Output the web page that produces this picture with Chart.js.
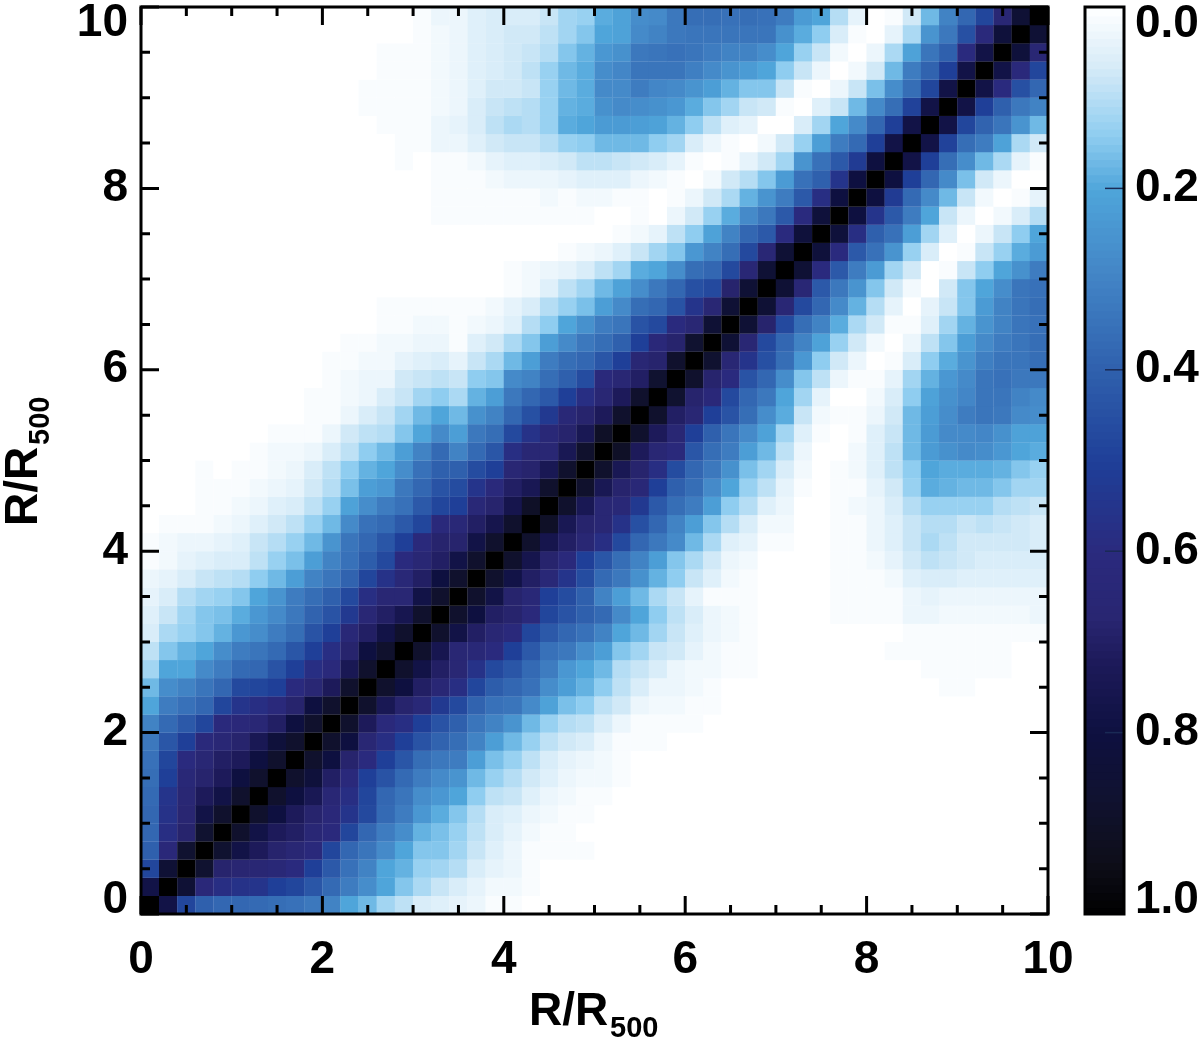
<!DOCTYPE html>
<html>
<head>
<meta charset="utf-8">
<title>R/R500 correlation matrix</title>
<script src="https://cdn.jsdelivr.net/npm/chart.js@4"></script>
<style>
	html, body { margin: 0; padding: 0; background: #fff; overflow: hidden; }
	canvas { filter: blur(0.6px); }
	#matrix { position: absolute; left: 0; top: 0; }
	#colorbar { position: absolute; left: 1060px; top: 0; }
</style>
</head>
<body>
<canvas id="matrix" width="1200" height="1038"></canvas>
<canvas id="colorbar" width="140" height="1038"></canvas>
<script>
// radial bins, 0.2 wide, bin centres on both axes
const binCenters = [
	0.1, 0.3, 0.5, 0.7, 0.9, 1.1, 1.3, 1.5, 1.7, 1.9,
	2.1, 2.3, 2.5, 2.7, 2.9, 3.1, 3.3, 3.5, 3.7, 3.9,
	4.1, 4.3, 4.5, 4.7, 4.9, 5.1, 5.3, 5.5, 5.7, 5.9,
	6.1, 6.3, 6.5, 6.7, 6.9, 7.1, 7.3, 7.5, 7.7, 7.9,
	8.1, 8.3, 8.5, 8.7, 8.9, 9.1, 9.3, 9.5, 9.7, 9.9,
];

// |correlation| in percent. The matrix is symmetric, so
// row j only lists columns j..49; anything past the end of a row is white.
const corrRows = [
	[100,78,48,40,38,38,37,36,35,33,30,20,17,12,9,6,5,4,3,1,1],
	[100,85,63,58,56,55,50,48,43,37,32,27,20,15,11,8,6,4,2,2,1],
	[100,87,68,67,66,64,60,50,42,35,30,20,18,13,12,10,6,4,3,1],
	[100,87,78,72,68,66,62,48,38,34,28,20,15,15,12,8,5,3,1,1,1,1],
	[100,88,78,72,70,65,61,48,38,32,27,18,16,13,9,6,4,2,1,1],
	[100,88,80,72,68,63,55,47,37,32,24,19,15,10,6,5,3,2,1,1],
	[100,88,80,74,65,58,48,38,34,27,24,20,14,9,8,5,3,2,1,1],
	[100,88,82,70,62,50,44,37,32,28,25,17,13,10,7,5,3,2,2,1],
	[100,88,80,68,60,50,43,36,33,32,22,16,13,9,6,4,3,2,1],
	[100,88,80,66,58,50,44,39,36,30,22,17,13,9,7,6,3,1,1,1],
	[100,88,72,62,58,50,44,40,34,30,25,17,13,10,9,6,3,1,1,1,1],
	[100,88,74,68,64,53,47,39,35,34,28,21,16,14,9,7,3,2,2,1,1],
	[100,88,80,70,65,58,48,41,38,35,27,22,18,14,9,6,3,3,2,1,0,0,0,0,0,0,0,0,0,0,0,0,1,1],
	[100,88,78,70,66,56,47,43,37,32,24,20,17,10,8,6,3,2,2,1,1,0,0,0,0,0,0,0,0,0,1,1,1,1,1],
	[100,88,75,66,64,60,50,42,35,33,27,22,15,12,8,7,4,2,1,1,0,0,0,0,0,0,0,1,1,1,1,1,1,1],
	[100,88,78,70,66,62,48,42,38,35,30,20,17,12,8,5,3,2,1,0,0,0,0,0,0,0,0,1,1,1,1,1,1,1,1],
	[100,88,80,70,68,62,48,44,40,37,28,20,14,9,6,3,2,1,0,0,0,0,1,1,1,1,3,3,2,2,2,2,2,3],
	[100,88,78,68,64,50,46,40,30,22,17,11,8,4,1,1,1,0,0,0,0,1,1,1,1,3,4,3,3,3,3,3,3],
	[100,88,78,70,64,55,46,37,33,26,18,14,8,5,2,1,0,0,0,0,1,1,1,2,5,6,6,5,5,5,5,5],
	[100,88,76,68,62,50,43,36,30,22,15,11,7,3,2,0,0,0,0,1,1,2,4,7,9,8,7,6,6,6,6],
	[100,88,76,70,66,58,47,38,33,28,17,11,5,4,1,1,0,0,1,1,3,5,8,11,9,7,7,7,7,6],
	[100,90,74,68,66,56,45,38,30,22,15,10,6,2,2,0,0,1,1,3,5,8,10,10,8,9,8,7,6],
	[100,88,74,66,64,53,42,36,32,22,14,10,5,3,0,0,1,2,3,6,10,13,13,13,13,10,9,8],
	[100,88,74,68,64,50,40,36,28,20,13,9,4,1,0,1,1,4,7,13,19,18,17,17,15,12,12],
	[100,88,74,68,58,46,38,33,26,16,12,6,2,0,1,2,5,9,14,20,19,19,19,18,15,13],
	[100,90,72,66,62,43,36,32,22,17,9,3,0,0,2,5,9,17,23,26,28,27,24,20,19],
	[100,88,72,66,50,40,34,28,21,12,5,1,0,1,5,8,17,23,28,28,29,26,21,21],
	[100,88,70,66,50,44,36,27,19,8,2,1,1,3,7,17,22,27,32,34,33,28,27],
	[100,87,68,63,47,38,33,20,12,4,0,0,2,6,14,21,26,29,34,34,30,28],
	[100,88,68,60,44,38,27,15,9,3,1,1,4,12,18,24,28,34,35,33,33],
	[100,87,66,55,45,36,24,14,7,3,0,1,6,14,19,25,31,34,34,36],
	[100,85,66,47,38,30,21,13,7,2,0,3,9,15,22,28,32,34,36],
	[100,85,68,47,36,30,19,11,7,1,1,5,12,18,25,30,34,35],
	[100,85,65,47,38,28,18,10,4,0,4,8,15,23,30,34,36],
	[100,85,65,42,33,25,15,7,2,0,7,15,20,27,34,35],
	[100,85,60,42,32,23,12,7,0,1,8,14,20,26,32],
	[100,82,60,42,35,25,13,6,0,1,8,13,19,23],
	[100,82,58,40,35,22,12,5,0,3,8,14,20],
	[100,80,55,42,32,20,8,3,0,2,6,10],
	[100,80,52,37,28,17,8,2,0,1,4],
	[100,80,50,38,28,16,7,3,0,0],
	[100,78,50,36,27,17,11,4,1],
	[100,78,49,36,32,21,11,7],
	[100,78,48,39,34,25,17],
	[100,78,50,40,33,30],
	[100,78,60,45,38],
	[100,78,62,48],
	[100,82,66],
	[100,85],
	[100],
];

const titleMain = "R/R";
const titleSub = "500";
const axisTicks = [0, 2, 4, 6, 8, 10];
const axisMinorTicks = [0.5, 1, 1.5, 2.5, 3, 3.5, 4.5, 5, 5.5, 6.5, 7, 7.5, 8.5, 9, 9.5];
const barTicks = [0.2, 0.4, 0.6, 0.8];

const rampStops = [0, 0.065, 0.14, 0.2, 0.285, 0.4, 0.5, 0.6, 0.67, 0.72, 0.8, 0.87, 0.94, 1];
const rampColors = [
	"#ffffff", "#d6ebf8", "#8fcdf0", "#4fa5da", "#4488c8", "#2f60ad", "#1f3f98",
	"#2a2a7e", "#292672", "#1d1a5a", "#0e1040", "#101230", "#0e0e1a", "#000000",
];

const tickFont = "'Liberation Sans', Arial, sans-serif";

function hexToRgb(hex) {
	return [1, 3, 5].map((k) => parseInt(hex.slice(k, k + 2), 16));
}

function rampColor(v) {
	let k = 0;
	while (k < rampStops.length - 2 && v > rampStops[k + 1]) k++;
	const t = Math.min(1, Math.max(0, (v - rampStops[k]) / (rampStops[k + 1] - rampStops[k])));
	const a = hexToRgb(rampColors[k]);
	const b = hexToRgb(rampColors[k + 1]);
	const c = a.map((ch, n) => Math.round(ch + (b[n] - ch) * t));
	return `rgb(${c[0]},${c[1]},${c[2]})`;
}

// mirror the triangle into the full set of cells
const cells = [];
corrRows.forEach((row, j) => {
	for (let i = j; i < binCenters.length; i++) {
		const v = (row[i - j] || 0) / 100;
		cells.push({ x: binCenters[i], y: binCenters[j], v: v });
		if (i !== j) cells.push({ x: binCenters[j], y: binCenters[i], v: v });
	}
});

// end labels sit inside the axis range, the extra blank line pushes them in
function endLabel(text, atTop) {
	return atTop ? ["", text] : [text, ""];
}

function noOverflow(scale) {
	scale.paddingTop = 0;
	scale.paddingBottom = 0;
	scale.paddingLeft = 0;
	scale.paddingRight = 0;
}

// frame, inward ticks on all four sides and the two axis titles
const framePlugin = {
	id: "frame",
	afterDatasetsDraw(chart) {
		const { ctx, chartArea: a, scales } = chart;
		ctx.save();
		ctx.strokeStyle = "#000";
		ctx.lineWidth = 3;
		const drawTick = (v, len) => {
			const px = scales.x.getPixelForValue(v);
			const py = scales.y.getPixelForValue(v);
			ctx.beginPath();
			ctx.moveTo(px, a.bottom); ctx.lineTo(px, a.bottom - len);
			ctx.moveTo(px, a.top); ctx.lineTo(px, a.top + len);
			ctx.moveTo(a.left, py); ctx.lineTo(a.left + len, py);
			ctx.moveTo(a.right, py); ctx.lineTo(a.right - len, py);
			ctx.stroke();
		};
		axisTicks.forEach((v) => drawTick(v, 18));
		axisMinorTicks.forEach((v) => drawTick(v, 9));
		ctx.strokeRect(a.left, a.top, a.right - a.left, a.bottom - a.top);

		const drawTitle = () => {
			ctx.fillStyle = "#000";
			ctx.textAlign = "left";
			ctx.textBaseline = "alphabetic";
			ctx.font = `bold 46px ${tickFont}`;
			ctx.fillText(titleMain, 0, 0);
			ctx.font = `bold 29px ${tickFont}`;
			ctx.fillText(titleSub, 81, 12);
		};
		ctx.save();
		ctx.translate(529, 1025);
		drawTitle();
		ctx.restore();
		ctx.save();
		ctx.translate(37, 526);
		ctx.rotate(-Math.PI / 2);
		drawTitle();
		ctx.restore();
		ctx.restore();
	},
};

new Chart(document.getElementById("matrix"), {
	type: "scatter",
	data: {
		datasets: [
			{
				data: cells,
				pointStyle: "rect",
				pointRadius: 13,
				pointBorderWidth: 0,
				pointBackgroundColor: (ctx) => (ctx.raw ? rampColor(ctx.raw.v) : "#fff"),
			},
		],
	},
	options: {
		responsive: false,
		animation: false,
		events: [],
		layout: { autoPadding: false, padding: { top: 7, right: 152, left: 0, bottom: 0 } },
		plugins: { legend: { display: false }, tooltip: { enabled: false } },
		scales: {
			x: {
				type: "linear",
				min: 0,
				max: 10,
				afterFit: (scale) => { scale.height = 124; noOverflow(scale); },
				grid: { display: false, drawTicks: false },
				border: { display: false },
				ticks: {
					stepSize: 2,
					padding: 23,
					color: "#000",
					maxRotation: 0,
					font: { family: tickFont, size: 46, weight: "bold", lineHeight: 1 },
				},
			},
			y: {
				type: "linear",
				min: 0,
				max: 10,
				afterFit: (scale) => { scale.width = 141; noOverflow(scale); },
				grid: { display: false, drawTicks: false },
				border: { display: false },
				ticks: {
					stepSize: 2,
					padding: 13,
					color: "#000",
					callback: (v) => (v === 10 ? endLabel("10", true) : v === 0 ? endLabel("0", false) : String(v)),
					font: (ctx) => {
						const v = ctx.tick ? ctx.tick.value : 5;
						return {
							family: tickFont,
							size: 46,
							weight: "bold",
							lineHeight: v === 10 ? "32px" : v === 0 ? "28px" : "46px",
						};
					},
				},
			},
		},
	},
	plugins: [framePlugin],
});

// colour bar: one floating bar per level of the ramp
const barLevels = [];
for (let k = 0; k < 120; k++) barLevels.push(k / 120);

const barFramePlugin = {
	id: "barFrame",
	afterDatasetsDraw(chart) {
		const { ctx, chartArea: a, scales } = chart;
		ctx.save();
		ctx.strokeStyle = "#1a2a55";
		ctx.lineWidth = 1.5;
		barTicks.forEach((v) => {
			const py = scales.y.getPixelForValue(v);
			ctx.beginPath();
			ctx.moveTo(a.right, py); ctx.lineTo(a.right - 19, py);
			ctx.stroke();
		});
		ctx.strokeStyle = "#000";
		ctx.lineWidth = 3;
		ctx.strokeRect(a.left, a.top, a.right - a.left, a.bottom - a.top);
		ctx.restore();
	},
};

new Chart(document.getElementById("colorbar"), {
	type: "bar",
	data: {
		labels: [""],
		datasets: barLevels.map((lvl) => ({
			data: [[lvl, lvl + 1 / 100]],
			backgroundColor: rampColor(lvl + 1 / 240),
			borderWidth: 0,
			barPercentage: 1,
			categoryPercentage: 1,
			grouped: false,
		})),
	},
	options: {
		responsive: false,
		animation: false,
		events: [],
		layout: { padding: { top: 7, left: 25, right: 0, bottom: 124 } },
		plugins: { legend: { display: false }, tooltip: { enabled: false } },
		scales: {
			x: { display: false },
			y: {
				position: "right",
				reverse: true,
				min: 0,
				max: 1,
				afterFit: (scale) => { scale.width = 76; noOverflow(scale); },
				grid: { display: false, drawTicks: false },
				border: { display: false },
				ticks: {
					stepSize: 0.2,
					padding: 11,
					color: "#000",
					callback: (v) => {
						const text = Number(v).toFixed(1);
						if (v === 0) return endLabel(text, true);
						if (v === 1) return endLabel(text, false);
						return text;
					},
					font: (ctx) => {
						const v = ctx.tick ? ctx.tick.value : 0.5;
						return {
							family: tickFont,
							size: 46,
							weight: "bold",
							lineHeight: v === 0 ? "34px" : v === 1 ? "28px" : "46px",
						};
					},
				},
			},
		},
	},
	plugins: [barFramePlugin],
});
</script>
</body>
</html>
